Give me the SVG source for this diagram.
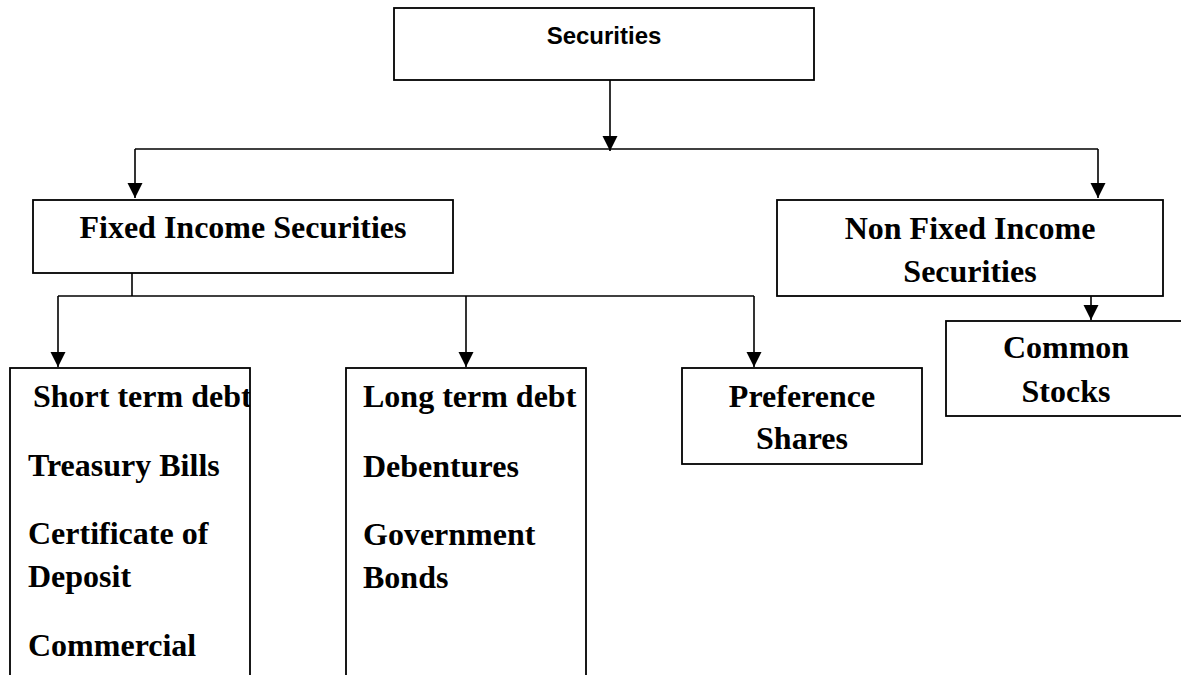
<svg xmlns="http://www.w3.org/2000/svg" width="1181" height="675" viewBox="0 0 1181 675">
<style>
.box{fill:#fff;stroke:#000;stroke-width:1.8}
.ln{fill:none;stroke:#000;stroke-width:1.6}
.t{font-family:"Liberation Serif","Times New Roman",serif;font-weight:bold;font-size:32px;fill:#000}
.c{text-anchor:middle}
.s{font-family:"Liberation Sans",Arial,sans-serif;font-weight:bold;font-size:24px;fill:#000;text-anchor:middle}
</style>
<defs>
<marker id="ah" markerUnits="userSpaceOnUse" markerWidth="15" markerHeight="16" refX="15" refY="7.5" orient="auto" viewBox="0 0 15 15">
<path d="M0,0 L15,7.5 L0,15 z" fill="#000"/>
</marker>
<clipPath id="clipShort"><rect x="10" y="368" width="240" height="320"/></clipPath>
</defs>
<rect width="1181" height="675" fill="#fff"/>
<g id="connectors">
<line class="ln" x1="610" y1="80" x2="610" y2="151" marker-end="url(#ah)"/>
<line class="ln" x1="135" y1="149" x2="1098" y2="149"/>
<line class="ln" x1="135" y1="149" x2="135" y2="198" marker-end="url(#ah)"/>
<line class="ln" x1="1098" y1="149" x2="1098" y2="198" marker-end="url(#ah)"/>
<line class="ln" x1="132" y1="273" x2="132" y2="296"/>
<line class="ln" x1="58" y1="296" x2="754" y2="296"/>
<line class="ln" x1="58" y1="296" x2="58" y2="367" marker-end="url(#ah)"/>
<line class="ln" x1="466" y1="296" x2="466" y2="367" marker-end="url(#ah)"/>
<line class="ln" x1="754" y1="296" x2="754" y2="367" marker-end="url(#ah)"/>
<line class="ln" x1="1091" y1="296" x2="1091" y2="320" marker-end="url(#ah)"/>
</g>
<g id="securities">
<rect class="box" x="394" y="8" width="420" height="72"/>
<text class="s" x="604" y="44">Securities</text>
</g>
<g id="fixed-income">
<rect class="box" x="33" y="200" width="420" height="73"/>
<text class="t c" x="243" y="238">Fixed Income Securities</text>
</g>
<g id="non-fixed-income">
<rect class="box" x="777" y="200" width="386" height="96"/>
<text class="t c" x="970" y="239">Non Fixed Income</text>
<text class="t c" x="970" y="282">Securities</text>
</g>
<g id="common-stocks">
<rect class="box" x="946" y="321" width="260" height="95"/>
<text class="t c" x="1066" y="358">Common</text>
<text class="t c" x="1066" y="402">Stocks</text>
</g>
<g id="preference-shares">
<rect class="box" x="682" y="368" width="240" height="96"/>
<text class="t c" x="802" y="407">Preference</text>
<text class="t c" x="802" y="449">Shares</text>
</g>
<g id="short-term-debt">
<rect class="box" x="10" y="368" width="240" height="330"/>
<g clip-path="url(#clipShort)">
<text class="t" x="33" y="407">Short term debt</text>
</g>
<text class="t" x="28" y="476">Treasury Bills</text>
<text class="t" x="28" y="544">Certificate of</text>
<text class="t" x="28" y="587">Deposit</text>
<text class="t" x="28" y="656">Commercial</text>
</g>
<g id="long-term-debt">
<rect class="box" x="346" y="368" width="240" height="330"/>
<text class="t" x="363" y="407">Long term debt</text>
<text class="t" x="363" y="477">Debentures</text>
<text class="t" x="363" y="545">Government</text>
<text class="t" x="363" y="588">Bonds</text>
</g>
</svg>
